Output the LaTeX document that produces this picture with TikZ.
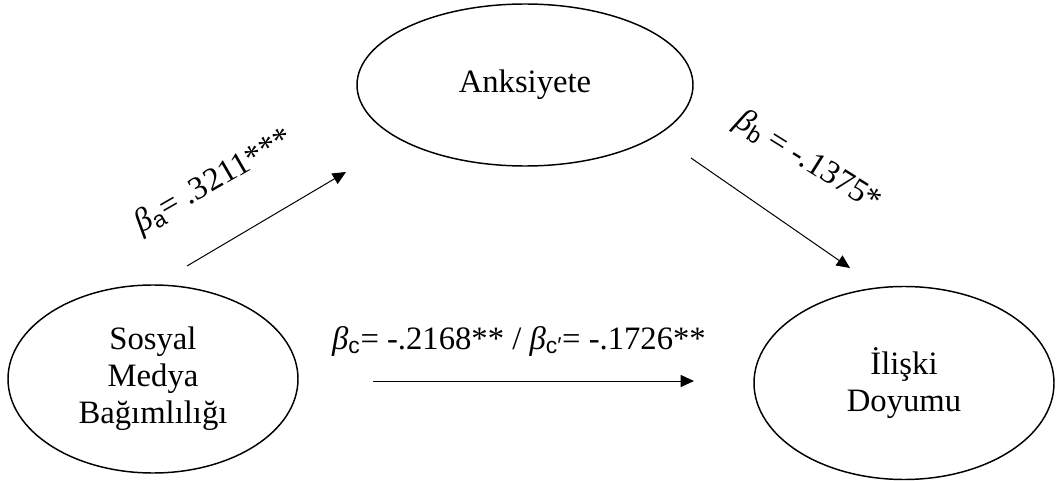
\documentclass[tikz,border=0pt]{standalone}
\usepackage{fontspec}
\setmainfont{Liberation Serif}
\newfontfamily\subfont{Liberation Sans}
\usetikzlibrary{shapes.geometric,arrows.meta}
\newcommand{\bsub}[1]{\textit{β}\textsubscript{\subfont #1}}
\begin{document}
\begin{tikzpicture}[x=0.75pt,y=-0.75pt,line join=round,>={Triangle[length=10pt,width=9pt]},font=\fontsize{24.5}{27.75}\selectfont]
\tikzset{var/.style={draw,ellipse,line width=1.1pt,align=center,inner sep=0pt},
  arr/.style={->,line width=0.75pt}}
\useasboundingbox (0,0) rectangle (1061,481);
% variables
\node[var,minimum width=252pt,minimum height=121.5pt] (anks) at (525,85) {Anksiyete};
\node[var,minimum width=217.5pt,minimum height=141pt] (smb) at (153,379) {Sosyal\\Medya\\Bağımlılığı};
\node[var,minimum width=225pt,minimum height=144.75pt] (doyum) at (904,383) {İlişki\\Doyumu};
% paths
\coordinate (a1) at (187,266); \coordinate (a2) at (346,172);
\coordinate (b1) at (691,158); \coordinate (b2) at (850,268);
\coordinate (c1) at (373,381); \coordinate (c2) at (694,381);
\draw[arr] (a1)--(a2);
\draw[arr] (b1)--(b2);
\draw[arr] (c1)--(c2);
\node[rotate=30] (la) at (214,182) {\bsub{a}= .3211***};
\node[rotate=-32] (lb) at (808,162) {\bsub{b} = -.1375*};
\node (lc) at (519,341) {\bsub{c}= -.2168** / \bsub{c′}= -.1726**};
\end{tikzpicture}
\end{document}
